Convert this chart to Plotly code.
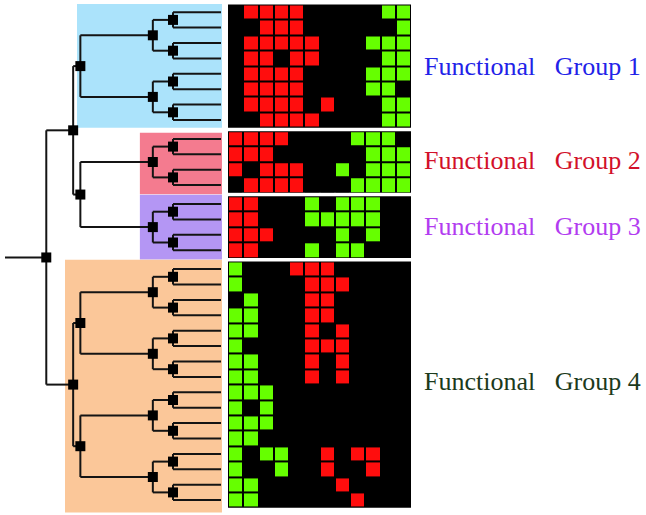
import plotly.graph_objects as go

# ---------------- data ----------------
group_labels = ["Functional   Group 1", "Functional   Group 2",
                "Functional   Group 3", "Functional   Group 4"]
group_label_colors = ["#2222e8", "#d2102a", "#b23cf0", "#1c3a1c"]
group_bg_colors = ["#abe3fb", "#f47b8f", "#b496f4", "#fbc799"]

# heatmap rows per group: 'R' = red, 'G' = green, '.' = black
group1_rows = [".RRRR.....GG", "..RRR......G", ".RRRRR...GGG", ".RR.RR....GG",
               ".RRRR....GGG", ".RRRR....GG.", ".RRRR.R...GG", "..RRRR....GG"]
group2_rows = ["RRRR....GGG.", "RRR......GGG", "R.RRR..G.GGG", ".RRRR...GGGG"]
group3_rows = ["RR...G.GGG..", "RR...GGGGG..", "RRR....G.G..", "RR...G.GG..."]
group4_rows = ["G...RRR.....", "G....RRR....", ".G...RR.....", "GG...RR.....",
               "GG...R.R....", "G....RRR....", "GG...R.R....", "GG...R.R....",
               "GGG.........", "G.G.........", "GGG.........", "GG..........",
               "G.GG..R.RR..", "G..G..R..R..", "GG.....R....", "GG......R..."]
groups = [group1_rows, group2_rows, group3_rows, group4_rows]
columns = list(range(12))

# dendrogram merge heights
h_pair, h_quad, h_group, h_upper, h_root, h_stub = 1.0, 1.42, 2.93, 3.08, 3.64, 4.5

# ---------------- layout constants ----------------
W, H = 646, 515
ROW_PX, GAP_PX, TOP_PX = 15.4, 3.5, 4.5
gap_u = GAP_PX / ROW_PX
LEAF_PX, DIST_PX = 221.0, 48.0

def row_y(global_idx, g):
    return global_idx + 0.5 + g * gap_u

# leaf y positions
leaf_y = []
starts = []
gi = 0
for g, rows in enumerate(groups):
    starts.append(gi)
    for r in rows:
        leaf_y.append(row_y(gi, g))
        gi += 1

def quad(a):
    return (h_quad, (h_pair, a, a + 1), (h_pair, a + 2, a + 3))

tree_g1 = (h_group, quad(0), quad(4))
tree_g23 = (h_group, quad(8), quad(12))
tree_g123 = (h_upper, tree_g1, tree_g23)
tree_g4 = (h_upper, (h_group, quad(16), quad(20)), (h_group, quad(24), quad(28)))
tree = (h_root, tree_g123, tree_g4)

lx, ly, mx, my = [], [], [], []

def walk(node):
    if isinstance(node, int):
        return 0.0, leaf_y[node]
    h, a, b = node
    xa, ya = walk(a)
    xb, yb = walk(b)
    lx.extend([xa, h, None, xb, h, None, h, h, None])
    ly.extend([ya, ya, None, yb, yb, None, ya, yb, None])
    ym = (ya + yb) / 2
    mx.append(h)
    my.append(ym)
    return h, ym

rx, ry = walk(tree)
lx.extend([rx, h_stub, None])
ly.extend([ry, ry, None])

fig = go.Figure()

# background rectangles behind clusters
bg_x0 = [3.0, 1.69, 1.69, 3.25]
bg_pad = [(0.03, 0.0), (-0.1, 0.1), (0.1, 0.1), (0.1, 0.3)]
for g, rows in enumerate(groups):
    y0 = starts[g] + g * gap_u - bg_pad[g][0]
    y1 = starts[g] + len(rows) + g * gap_u + bg_pad[g][1]
    fig.add_shape(type="rect", xref="x", yref="y", x0=bg_x0[g], x1=-0.02,
                  y0=y0, y1=y1, fillcolor=group_bg_colors[g], line_width=0,
                  layer="below")
    # black heatmap background
    fig.add_shape(type="rect", xref="x2", yref="y", x0=-0.5, x1=11.5,
                  y0=starts[g] + g * gap_u, y1=starts[g] + len(rows) + g * gap_u,
                  fillcolor="black", line_width=0, layer="below")

fig.add_trace(go.Scatter(x=lx, y=ly, mode="lines",
                         line=dict(color="#141414", width=2),
                         hoverinfo="skip", showlegend=False))
fig.add_trace(go.Scatter(x=mx, y=my, mode="markers",
                         marker=dict(symbol="square", size=10, color="black"),
                         hoverinfo="skip", showlegend=False))

code = {".": 0, "R": 1, "G": 2}
cscale = [[0, "#000000"], [0.25, "#000000"], [0.25, "#ff0d0d"], [0.75, "#ff0d0d"],
          [0.75, "#66ff00"], [1, "#66ff00"]]
for g, rows in enumerate(groups):
    z = [[code[c] for c in r] for r in rows]
    ys = [row_y(starts[g] + i, g) for i in range(len(rows))]
    fig.add_trace(go.Heatmap(z=z, x=columns, y=ys, xaxis="x2", yaxis="y",
                             zmin=0, zmax=2, colorscale=cscale, showscale=False,
                             xgap=2, ygap=2, hoverinfo="skip"))

label_px = [66, 160, 226, 381]
for g in range(4):
    fig.add_annotation(text=group_labels[g].replace("   ", "\u00a0\u00a0 "),
                       xref="paper", x=422 / W, xanchor="left",
                       yref="y", y=(label_px[g] - TOP_PX) / ROW_PX, yanchor="middle",
                       showarrow=False,
                       font=dict(family="Liberation Serif",
                                 size=26, color=group_label_colors[g]))

ax_off = dict(visible=False, showgrid=False, zeroline=False, fixedrange=True)
fig.update_layout(
    width=W, height=H, margin=dict(l=0, r=0, t=0, b=0),
    paper_bgcolor="white", plot_bgcolor="white",
    xaxis=dict(domain=[0, 1], range=[LEAF_PX / DIST_PX, (LEAF_PX - W) / DIST_PX], **ax_off),
    xaxis2=dict(domain=[228 / W, 411 / W], range=[-0.5, 11.5], anchor="y", **ax_off),
    yaxis=dict(domain=[0, 1], range=[(H - TOP_PX) / ROW_PX, -TOP_PX / ROW_PX], **ax_off),
    showlegend=False,
)
fig.write_html("out.html", config={"displayModeBar": False},
               post_script="document.body.style.margin='0';document.body.style.overflow='hidden';")
